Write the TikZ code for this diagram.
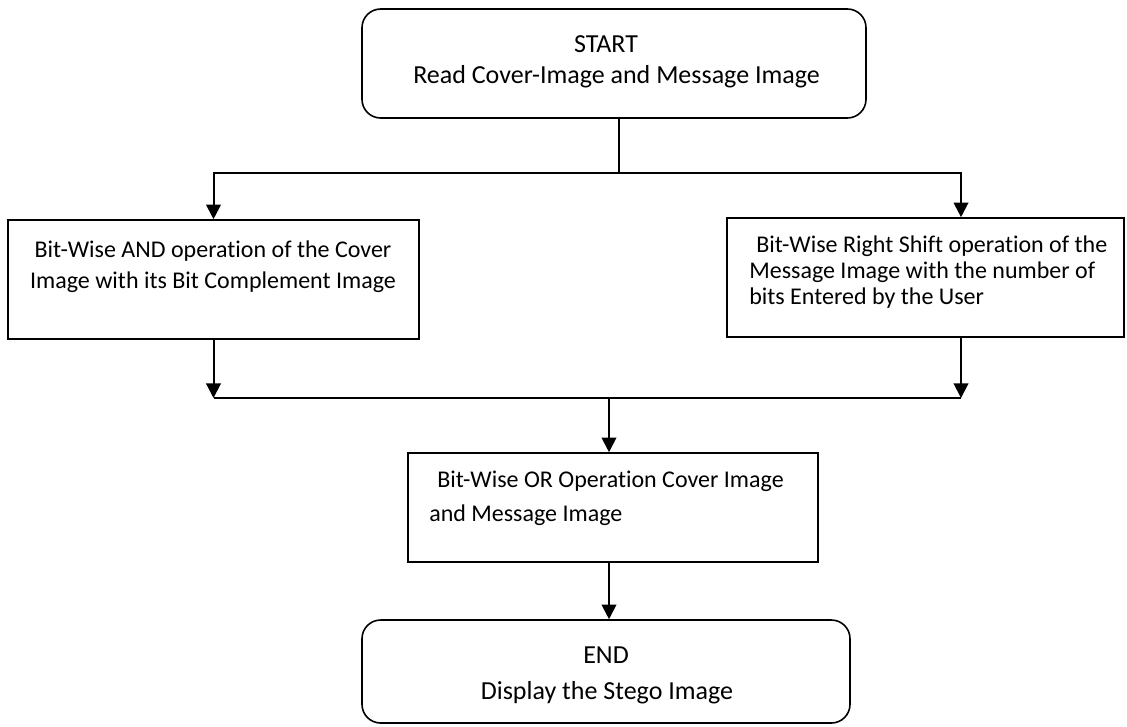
\documentclass[tikz,border=0pt]{standalone}
\usepackage{fontspec}
\setmainfont{Carlito}[Ligatures=NoCommon]
\usetikzlibrary{arrows.meta}
\tikzset{
  box/.style={draw, line width=1.2pt, inner sep=0pt, rectangle},
  term/.style={box, rounded corners=14pt},
  body/.style={font=\fontsize{18}{22}\selectfont, inner sep=0pt},
  big/.style={font=\fontsize{19.5}{24}\selectfont, inner sep=0pt},
  wire/.style={line width=1.5pt},
  arr/.style={wire, -{Triangle[length=11pt,width=11pt]}},
}
\begin{document}
\begin{tikzpicture}[x=0.75pt, y=-0.75pt]
\useasboundingbox (0,0) rectangle (1127,726);

% boxes
\node[term, minimum width=378pt, minimum height=81.75pt] (start) at (614,63.5) {};
\node[box, minimum width=308.25pt, minimum height=89.25pt] (left) at (213.5,279.5) {};
\node[box, minimum width=297.75pt, minimum height=89.25pt] (right) at (925.5,277.5) {};
\node[box, minimum width=307.5pt, minimum height=81.75pt] (mid) at (613,507.5) {};
\node[term, minimum width=366pt, minimum height=77.25pt] (end) at (606,671.5) {};

% box texts
\node[big, anchor=base] (startA) at (606,52) {START};
\node[big, anchor=base west] (startB) at (413,83) {Read Cover-Image and Message Image};

\node[body, anchor=base] (leftA) at (213,257) {Bit-Wise AND operation of the Cover};
\node[body, anchor=base] (leftB) at (213,288) {Image with its Bit Complement Image};

\node[body, anchor=base west] (rightA) at (756,252) {Bit-Wise Right Shift operation of the};
\node[body, anchor=base west] (rightB) at (749,278) {Message Image with the number of};
\node[body, anchor=base west] (rightC) at (749,304) {bits Entered by the User};

\node[body, anchor=base west] (midA) at (437,487) {Bit-Wise OR Operation Cover Image};
\node[body, anchor=base west] (midB) at (429,521) {and Message Image};

\node[big, anchor=base] (endA) at (606,663) {END};
\node[big, anchor=base] (endB) at (607,699) {Display the Stego Image};

% junction points of the connectors
\coordinate (split) at (619,173);
\coordinate (rx) at (961,0);
\coordinate (join) at (609,398);

% fork from START to the two operations
\draw[wire] (split |- start.south) -- (split);
\draw[arr] (split) -| (left.north);
\draw[arr] (split) -| (rx |- right.north);

% merge of the two operations
\draw[arr] (left.south) -- (left.south |- join);
\draw[arr] (rx |- right.south) -- (rx |- join);
\draw[wire] (left.south |- join) -- (rx |- join);

% OR step and end
\draw[arr] (join) -- (join |- mid.north);
\draw[arr] (join |- mid.south) -- (join |- end.north);
\end{tikzpicture}
\end{document}
